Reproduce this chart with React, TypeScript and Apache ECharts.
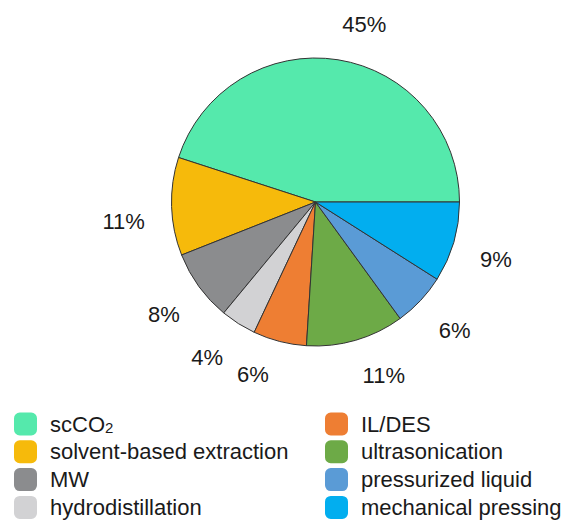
import React, { useEffect, useRef } from "react";
import * as echarts from "echarts";

const categories = [
  "scCO2",
  "solvent-based extraction",
  "MW",
  "hydrodistillation",
  "IL/DES",
  "ultrasonication",
  "pressurized liquid",
  "mechanical pressing",
];
const shares = [45, 11, 8, 4, 6, 11, 6, 9];
const colors = [
  "#55E9AC",
  "#F6BA0B",
  "#8B8C8E",
  "#D2D2D4",
  "#EE7E33",
  "#6DAA47",
  "#5A9BD6",
  "#02AEEF",
];

export default function App() {
  const ref = useRef<HTMLDivElement>(null);
  useEffect(() => {
    if (!ref.current) return;
    const chart = echarts.init(ref.current, undefined, { renderer: "svg" });
    const font = "'Liberation Sans', Arial, Helvetica, sans-serif";
    const textColor = "#1a1a1a";
    const labelOffsets: number[][] = [
      [19, 11],
      [-1, 14],
      [3, 0],
      [-6, -6],
      [-15, -12],
      [15, -10],
      [0, -2],
      [-3, 4],
    ];
    const center = [315.5, 202];
    const realData = categories.map((n, i) => ({
      name: n,
      value: shares[i],
      itemStyle: { color: colors[i] },
    }));
    const ghostData = categories.map((n, i) => ({
      name: n,
      value: shares[i],
      label: { offset: labelOffsets[i] },
    }));
    const legendCommon = {
      orient: "vertical" as const,
      top: 412.5,
      padding: 0,
      height: 120,
      itemWidth: 23,
      itemHeight: 23,
      itemGap: 4.8,
      icon: "roundRect",
      selectedMode: false,
      itemStyle: { borderWidth: 0 },
      formatter: (name: string) =>
        name === "scCO2" ? "{n|scCO}{s|2}" : "{n|" + name + "}",
      textStyle: {
        fontFamily: font,
        fontSize: 22,
        color: textColor,
        padding: [0, 0, 0, 8],
        rich: {
          n: { fontFamily: font, fontSize: 22, lineHeight: 22, color: textColor },
          s: {
            fontFamily: font,
            fontSize: 15,
            lineHeight: 8,
            color: textColor,
            verticalAlign: "bottom",
          },
        },
      },
    };
    chart.setOption({
      animation: false,
      backgroundColor: "#ffffff",
      legend: [
        { ...legendCommon, left: 14, data: categories.slice(0, 4) },
        { ...legendCommon, left: 325, data: categories.slice(4) },
      ],
      series: [
        {
          type: "pie",
          center,
          radius: [0, 144],
          startAngle: 0,
          clockwise: false,
          label: { show: false },
          labelLine: { show: false },
          itemStyle: { borderColor: "#333333", borderWidth: 1 },
          emphasis: { disabled: true },
          data: realData,
        },
        {
          type: "pie",
          center,
          radius: [176, 200],
          startAngle: 0,
          clockwise: false,
          silent: true,
          legendHoverLink: false,
          itemStyle: { color: "rgba(0,0,0,0)", borderWidth: 0 },
          label: {
            show: true,
            position: "inside",
            formatter: "{c}%",
            fontFamily: font,
            fontSize: 22,
            color: textColor,
          },
          labelLine: { show: false },
          emphasis: { disabled: true },
          data: ghostData,
        },
      ],
    });
    return () => chart.dispose();
  }, []);
  return (
    <div
      ref={ref}
      style={{ position: "fixed", left: 0, top: 0, width: 571, height: 521 }}
    />
  );
}
